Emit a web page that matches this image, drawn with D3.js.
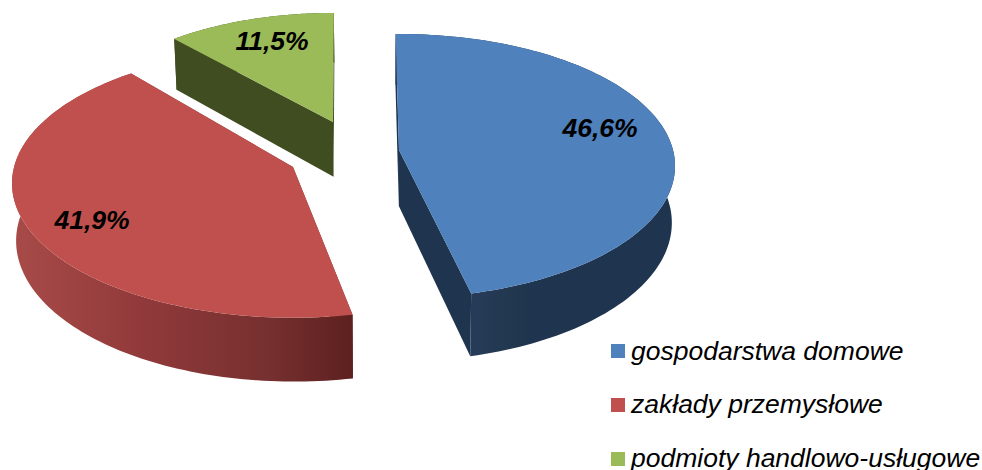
<!DOCTYPE html>
<html><head><meta charset="utf-8">
<script src="https://cdn.jsdelivr.net/npm/d3@7"></script>
<style>html,body{margin:0;padding:0;background:#fff}svg{display:block}text{font-family:"Liberation Sans",Arial,sans-serif;font-style:italic;fill:#000}</style>
</head><body><svg id="c" width="982" height="470"></svg>
<script>
const categories = ["gospodarstwa domowe", "zakłady przemysłowe", "podmioty handlowo-usługowe"];
const values = [46.6, 41.9, 11.5];
const valueLabels = ["46,6%", "41,9%", "11,5%"];
const colors = ["#4f81bd", "#c0504d", "#9bbb59"];

// layout of the exploded slices (apex position, scale, perspective angle correction in degrees)
const apexX = [399, 293, 333];
const apexY = [150, 167, 122];
const scales = [1, 1.018, 0.94];
const startShift = [0, 2.2, 0];
const endShift = [-0.4, 2.8, 1];
const labelX = [600, 92, 272];
const labelY = [137, 229, 50];
const legendY = [344, 398, 452];
const legendTextY = [360, 413, 467];

const W = 982, H = 470;
const svg = d3.select("#c").attr("viewBox", `0 0 ${W} ${H}`);
const defs = svg.append("defs");

const R = 274, persp = 0.1212, ya = -111.9, rotation = -0.8 * Math.PI / 180;
const x0 = 385, sx = 0.989, sy = 1.047, dy = 49;

function topPoint(i, t) {
  const u = Math.sin(t), v = Math.cos(t), w = 1 + persp * v, s = scales[i];
  return [apexX[i] + s * R * u / w, apexY[i] + s * ((ya * v) / w - 150 * persp * v / w)];
}
function bottomPoint(p) { return [x0 + (p[0] - x0) * sx, p[1] * sy + dy]; }

const pie = d3.pie().sort(null).startAngle(rotation).endAngle(rotation + 2 * Math.PI);
const arcs = pie(values);
const line = d3.line();

function grad(id, x1, x2, stops) {
  const g = defs.append("linearGradient").attr("id", id).attr("gradientUnits", "userSpaceOnUse")
    .attr("x1", x1).attr("x2", x2).attr("y1", 0).attr("y2", 0);
  stops.forEach(s => g.append("stop").attr("offset", s[0]).attr("stop-color", s[1]));
}
grad("w0", 470, 670, [[0, "#263c5a"], [0.2, "#22384f"], [0.3, "#1f344e"], [1, "#1f344e"]]);
grad("w1", 12, 352, [[0, "#a84b48"], [0.4, "#90393a"], [0.75, "#76302f"], [1, "#5d2120"]]);
const wallFill = ["url(#w0)", "url(#w1)", "#3f4d21"];
const cutFill = ["#1f344e", "#76302f", "#3f4d21"];

function arcPts(i, a, b) { return d3.range(0, 121).map(k => topPoint(i, a + (b - a) * k / 120)); }
const rad = d => d * Math.PI / 180;

[2, 1, 0].forEach(i => {
  const a = arcs[i], c = [apexX[i], apexY[i]];
  const g = svg.append("g");
  const pts = arcPts(i, a.startAngle + rad(startShift[i]), a.endAngle + rad(endShift[i]));
  const first = pts[0], last = pts[pts.length - 1];
  // cut faces
  [first, last].forEach(p => {
    g.append("path").attr("d", line([c, p, bottomPoint(p), bottomPoint(c)]) + "Z").attr("fill", cutFill[i]);
  });
  // outer wall
  g.append("path").attr("d", line(pts.concat(pts.map(bottomPoint).reverse())) + "Z").attr("fill", wallFill[i]);
  // top face
  g.append("path").attr("d", line([c].concat(pts)) + "Z").attr("fill", colors[i]);
});

values.forEach((v, i) => {
  svg.append("text").attr("x", labelX[i]).attr("y", labelY[i]).attr("text-anchor", "middle")
    .attr("font-size", 26.5).attr("font-weight", "bold").text(valueLabels[i]);
});

categories.forEach((c, i) => {
  svg.append("rect").attr("x", 611).attr("y", legendY[i]).attr("width", 14).attr("height", 14).attr("fill", colors[i]);
  svg.append("text").attr("x", 631).attr("y", legendTextY[i]).attr("font-size", 26.5).text(c);
});
</script></body></html>
